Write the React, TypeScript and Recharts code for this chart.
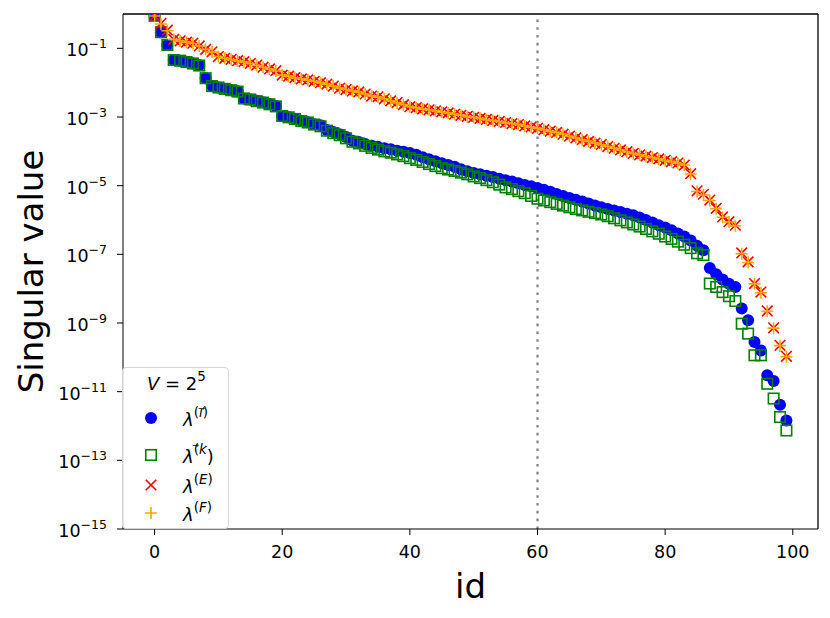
import { ScatterChart, Scatter, XAxis, YAxis, ReferenceLine, Legend, Label } from "recharts"

// log10 of the singular values (id = array index)
const logLambdaI = [
  -0.05, -0.53, -0.9, -1.34, -1.36, -1.39, -1.44, -1.49, -1.87, -2.1,
  -2.14, -2.18, -2.22, -2.25, -2.46, -2.49, -2.53, -2.57, -2.62, -2.68,
  -2.97, -3.01, -3.05, -3.11, -3.15, -3.21, -3.24, -3.38, -3.44, -3.5,
  -3.58, -3.69, -3.73, -3.79, -3.84, -3.87, -3.91, -3.94, -3.98, -4.01,
  -4.05, -4.1, -4.17, -4.23, -4.29, -4.35, -4.4, -4.45, -4.52, -4.58,
  -4.63, -4.67, -4.71, -4.75, -4.8, -4.84, -4.88, -4.93, -4.98, -5.02,
  -5.07, -5.12, -5.18, -5.24, -5.3, -5.36, -5.41, -5.46, -5.52, -5.58,
  -5.63, -5.68, -5.72, -5.77, -5.82, -5.86, -5.93, -6.0, -6.07, -6.15,
  -6.22, -6.3, -6.39, -6.48, -6.6, -6.75, -6.88, -7.4, -7.58, -7.73,
  -7.86, -7.95, -8.58, -8.92, -9.55, -9.8, -10.52, -10.69, -11.38, -11.84,
]

const logLambdaK = [
  -0.05, -0.53, -0.9, -1.34, -1.36, -1.4, -1.44, -1.5, -1.87, -2.1,
  -2.14, -2.18, -2.22, -2.26, -2.46, -2.49, -2.54, -2.58, -2.63, -2.69,
  -2.97, -3.01, -3.06, -3.12, -3.16, -3.22, -3.27, -3.4, -3.47, -3.53,
  -3.62, -3.72, -3.77, -3.84, -3.9, -3.95, -4.0, -4.04, -4.09, -4.14,
  -4.2, -4.25, -4.31, -4.37, -4.43, -4.49, -4.53, -4.57, -4.62, -4.67,
  -4.73, -4.78, -4.84, -4.9, -4.97, -5.05, -5.1, -5.16, -5.22, -5.3,
  -5.38, -5.43, -5.48, -5.53, -5.58, -5.63, -5.68, -5.72, -5.76, -5.8,
  -5.84, -5.89, -5.95, -6.01, -6.07, -6.13, -6.19, -6.26, -6.33, -6.4,
  -6.48, -6.55, -6.63, -6.72, -6.82, -6.97, -7.02, -7.85, -7.95, -8.1,
  -8.22, -8.36, -9.02, -9.31, -9.94, -9.94, -10.77, -11.2, -11.74, -12.13,
]

const logLambdaE = [
  -0.06, -0.27, -0.47, -0.74, -0.78, -0.82, -0.85, -0.93, -1.03, -1.1,
  -1.24, -1.29, -1.32, -1.36, -1.39, -1.44, -1.49, -1.55, -1.6, -1.65,
  -1.78, -1.81, -1.85, -1.89, -1.92, -1.96, -2.0, -2.04, -2.1, -2.16,
  -2.2, -2.24, -2.27, -2.33, -2.39, -2.41, -2.47, -2.53, -2.58, -2.64,
  -2.7, -2.73, -2.76, -2.79, -2.82, -2.85, -2.88, -2.92, -2.95, -2.98,
  -3.01, -3.04, -3.07, -3.1, -3.13, -3.16, -3.19, -3.22, -3.26, -3.29,
  -3.33, -3.37, -3.41, -3.45, -3.5, -3.56, -3.61, -3.66, -3.71, -3.76,
  -3.8, -3.86, -3.91, -3.96, -4.01, -4.06, -4.1, -4.14, -4.18, -4.22,
  -4.26, -4.3, -4.34, -4.4, -4.65, -5.15, -5.25, -5.42, -5.66, -5.91,
  -6.05, -6.15, -6.96, -7.22, -7.85, -8.1, -8.65, -9.14, -9.65, -9.97,
]

const logLambdaF = [
  -0.06, -0.29, -0.49, -0.74, -0.79, -0.82, -0.86, -0.93, -1.03, -1.11,
  -1.24, -1.29, -1.33, -1.36, -1.4, -1.44, -1.5, -1.55, -1.6, -1.66,
  -1.78, -1.81, -1.86, -1.89, -1.93, -1.96, -2.0, -2.05, -2.1, -2.16,
  -2.2, -2.24, -2.28, -2.33, -2.39, -2.42, -2.47, -2.53, -2.59, -2.64,
  -2.7, -2.73, -2.77, -2.79, -2.82, -2.86, -2.88, -2.92, -2.95, -2.99,
  -3.01, -3.04, -3.08, -3.1, -3.13, -3.17, -3.19, -3.22, -3.26, -3.3,
  -3.33, -3.37, -3.42, -3.45, -3.5, -3.56, -3.61, -3.67, -3.71, -3.76,
  -3.81, -3.86, -3.91, -3.96, -4.02, -4.06, -4.1, -4.15, -4.18, -4.22,
  -4.27, -4.3, -4.35, -4.4, -4.66, -5.17, -5.27, -5.43, -5.67, -5.92,
  -6.06, -6.17, -6.98, -7.24, -7.86, -8.12, -8.66, -9.15, -9.66, -9.98,
]

const yTicks = [1e-1, 1e-3, 1e-5, 1e-7, 1e-9, 1e-11, 1e-13, 1e-15]
const xTicks = [0, 20, 40, 60, 80, 100]
const xDomain = [-4.95, 103.95]
const yDomain = [1e-15, 1]

const toPoints = (logs: number[]) => logs.map((v, i) => ({ id: i, value: Math.pow(10, v) }))

const dataI = toPoints(logLambdaI)
const dataK = toPoints(logLambdaK)
const dataE = toPoints(logLambdaE)
const dataF = toPoints(logLambdaF)

const FONT = "DejaVu Sans, sans-serif"
const BLUE = "#0000ff"
const GREEN = "#008000"
const RED = "#ff0000"
const ORANGE = "#ffa500"

const Circle = (props: any) => <circle cx={props.cx} cy={props.cy} r={6} fill={BLUE} />
const Square = (props: any) => (
  <rect x={props.cx - 5.25} y={props.cy - 5.25} width={10.5} height={10.5} fill="none" stroke={GREEN} strokeWidth={1.6} />
)
const Cross = (props: any) => {
  const { cx, cy } = props
  const s = 5.3
  return (
    <path d={`M${cx - s},${cy - s}L${cx + s},${cy + s}M${cx - s},${cy + s}L${cx + s},${cy - s}`} stroke={RED} strokeWidth={1.6} />
  )
}
const Plus = (props: any) => {
  const { cx, cy } = props
  const s = 6
  return <path d={`M${cx - s},${cy}L${cx + s},${cy}M${cx},${cy - s}L${cx},${cy + s}`} stroke={ORANGE} strokeWidth={1.6} />
}

const YTick = (props: any) => {
  const { x, y, payload } = props
  const exp = Math.round(Math.log10(payload.value))
  return (
    <text x={x} y={y} dy={8} textAnchor="end" fontSize={17.5} fontFamily={FONT} fill="#000">
      10
      <tspan dy={-8} fontSize={12.5}>
        {"\u2212" + Math.abs(exp)}
      </tspan>
    </text>
  )
}

const sup = { fontSize: 13.5, position: "relative" as const, top: -9 }

const LegendBox = () => (
  <div
    style={{
      position: "relative",
      width: 105,
      height: 160,
      border: "1px solid #d6d6d6",
      borderRadius: 4,
      background: "rgba(255,255,255,0.8)",
      fontFamily: FONT,
      fontSize: 18,
      color: "#000",
      lineHeight: 1,
    }}
  >
    <div style={{ position: "absolute", left: 24, top: 7, whiteSpace: "nowrap" }}>
      <i>V</i> = 2<span style={sup}>5</span>
    </div>
    {[
      { y: 50, marker: <circle cx={8} cy={8} r={6} fill={BLUE} />, label: <>(<i>i&#x20D7;</i>)</> },
      { y: 87, marker: <rect x={2.75} y={2.75} width={10.5} height={10.5} fill="none" stroke={GREEN} strokeWidth={1.6} />, label: <>(&#x20D7;<i>k</i></>, tail: ")" },
      { y: 117, marker: <path d="M2.7,2.7L13.3,13.3M2.7,13.3L13.3,2.7" stroke={RED} strokeWidth={1.6} />, label: <>(<i>E</i>)</> },
      { y: 145, marker: <path d="M2,8L14,8M8,2L8,14" stroke={ORANGE} strokeWidth={1.6} />, label: <>(<i>F</i>)</> },
    ].map((e, i) => (
      <div key={i}>
        <svg width={16} height={16} style={{ position: "absolute", left: 20, top: e.y - 8 }}>
          {e.marker}
        </svg>
        <div style={{ position: "absolute", left: 60, top: e.y - 7, whiteSpace: "nowrap" }}>
          <i>λ</i>
          <span style={sup}>{e.label}</span>
          {e.tail}
        </div>
      </div>
    ))}
  </div>
)

export default function App() {
  return (
    <div style={{ position: "absolute", left: 0, top: 0, width: 830, height: 618, background: "#fff" }}>
      <ScatterChart width={830} height={618} margin={{ top: 14, right: 12, left: 0, bottom: 0 }}>
        <XAxis
          dataKey="id"
          type="number"
          domain={xDomain}
          ticks={xTicks}
          allowDataOverflow
          height={89}
          stroke="#000"
          tickSize={6}
          tickMargin={11}
          tick={{ fontSize: 17.5, fontFamily: FONT, fill: "#000" }}
        >
          <Label
            content={(p: any) => {
              const vb = p.viewBox
              return (
                <text x={vb.x + vb.width / 2} y={vb.y + 69} textAnchor="middle" fontSize={34} fontFamily={FONT} fill="#000">
                  id
                </text>
              )
            }}
          />
        </XAxis>
        <YAxis
          dataKey="value"
          type="number"
          scale="log"
          domain={yDomain}
          ticks={yTicks}
          allowDataOverflow
          width={123}
          stroke="#000"
          tickSize={6}
          tickMargin={10}
          tick={<YTick />}
        >
          <Label
            content={(p: any) => {
              const vb = p.viewBox
              const cy = vb.y + vb.height / 2
              return (
                <text x={43} y={cy} transform={`rotate(-90, 43, ${cy})`} textAnchor="middle" fontSize={34} fontFamily={FONT} fill="#000">
                  Singular value
                </text>
              )
            }}
          />
        </YAxis>
        <ReferenceLine x={60} stroke="#808080" strokeWidth={2.2} strokeDasharray="2.6 5.2" />
        <ReferenceLine y={1} stroke="#000" strokeWidth={1.3} />
        <ReferenceLine x={xDomain[1]} stroke="#000" strokeWidth={1.3} />
        <Scatter name="I" data={dataI} shape={Circle} isAnimationActive={false} />
        <Scatter name="K" data={dataK} shape={Square} isAnimationActive={false} />
        <Scatter name="E" data={dataE} shape={Cross} isAnimationActive={false} />
        <Scatter name="F" data={dataF} shape={Plus} isAnimationActive={false} />
        <Legend
          layout="vertical"
          align="center"
          verticalAlign="middle"
          content={() => <LegendBox />}
          wrapperStyle={{ left: 122, top: 367, width: 107, height: 162 }}
        />
      </ScatterChart>
    </div>
  )
}
